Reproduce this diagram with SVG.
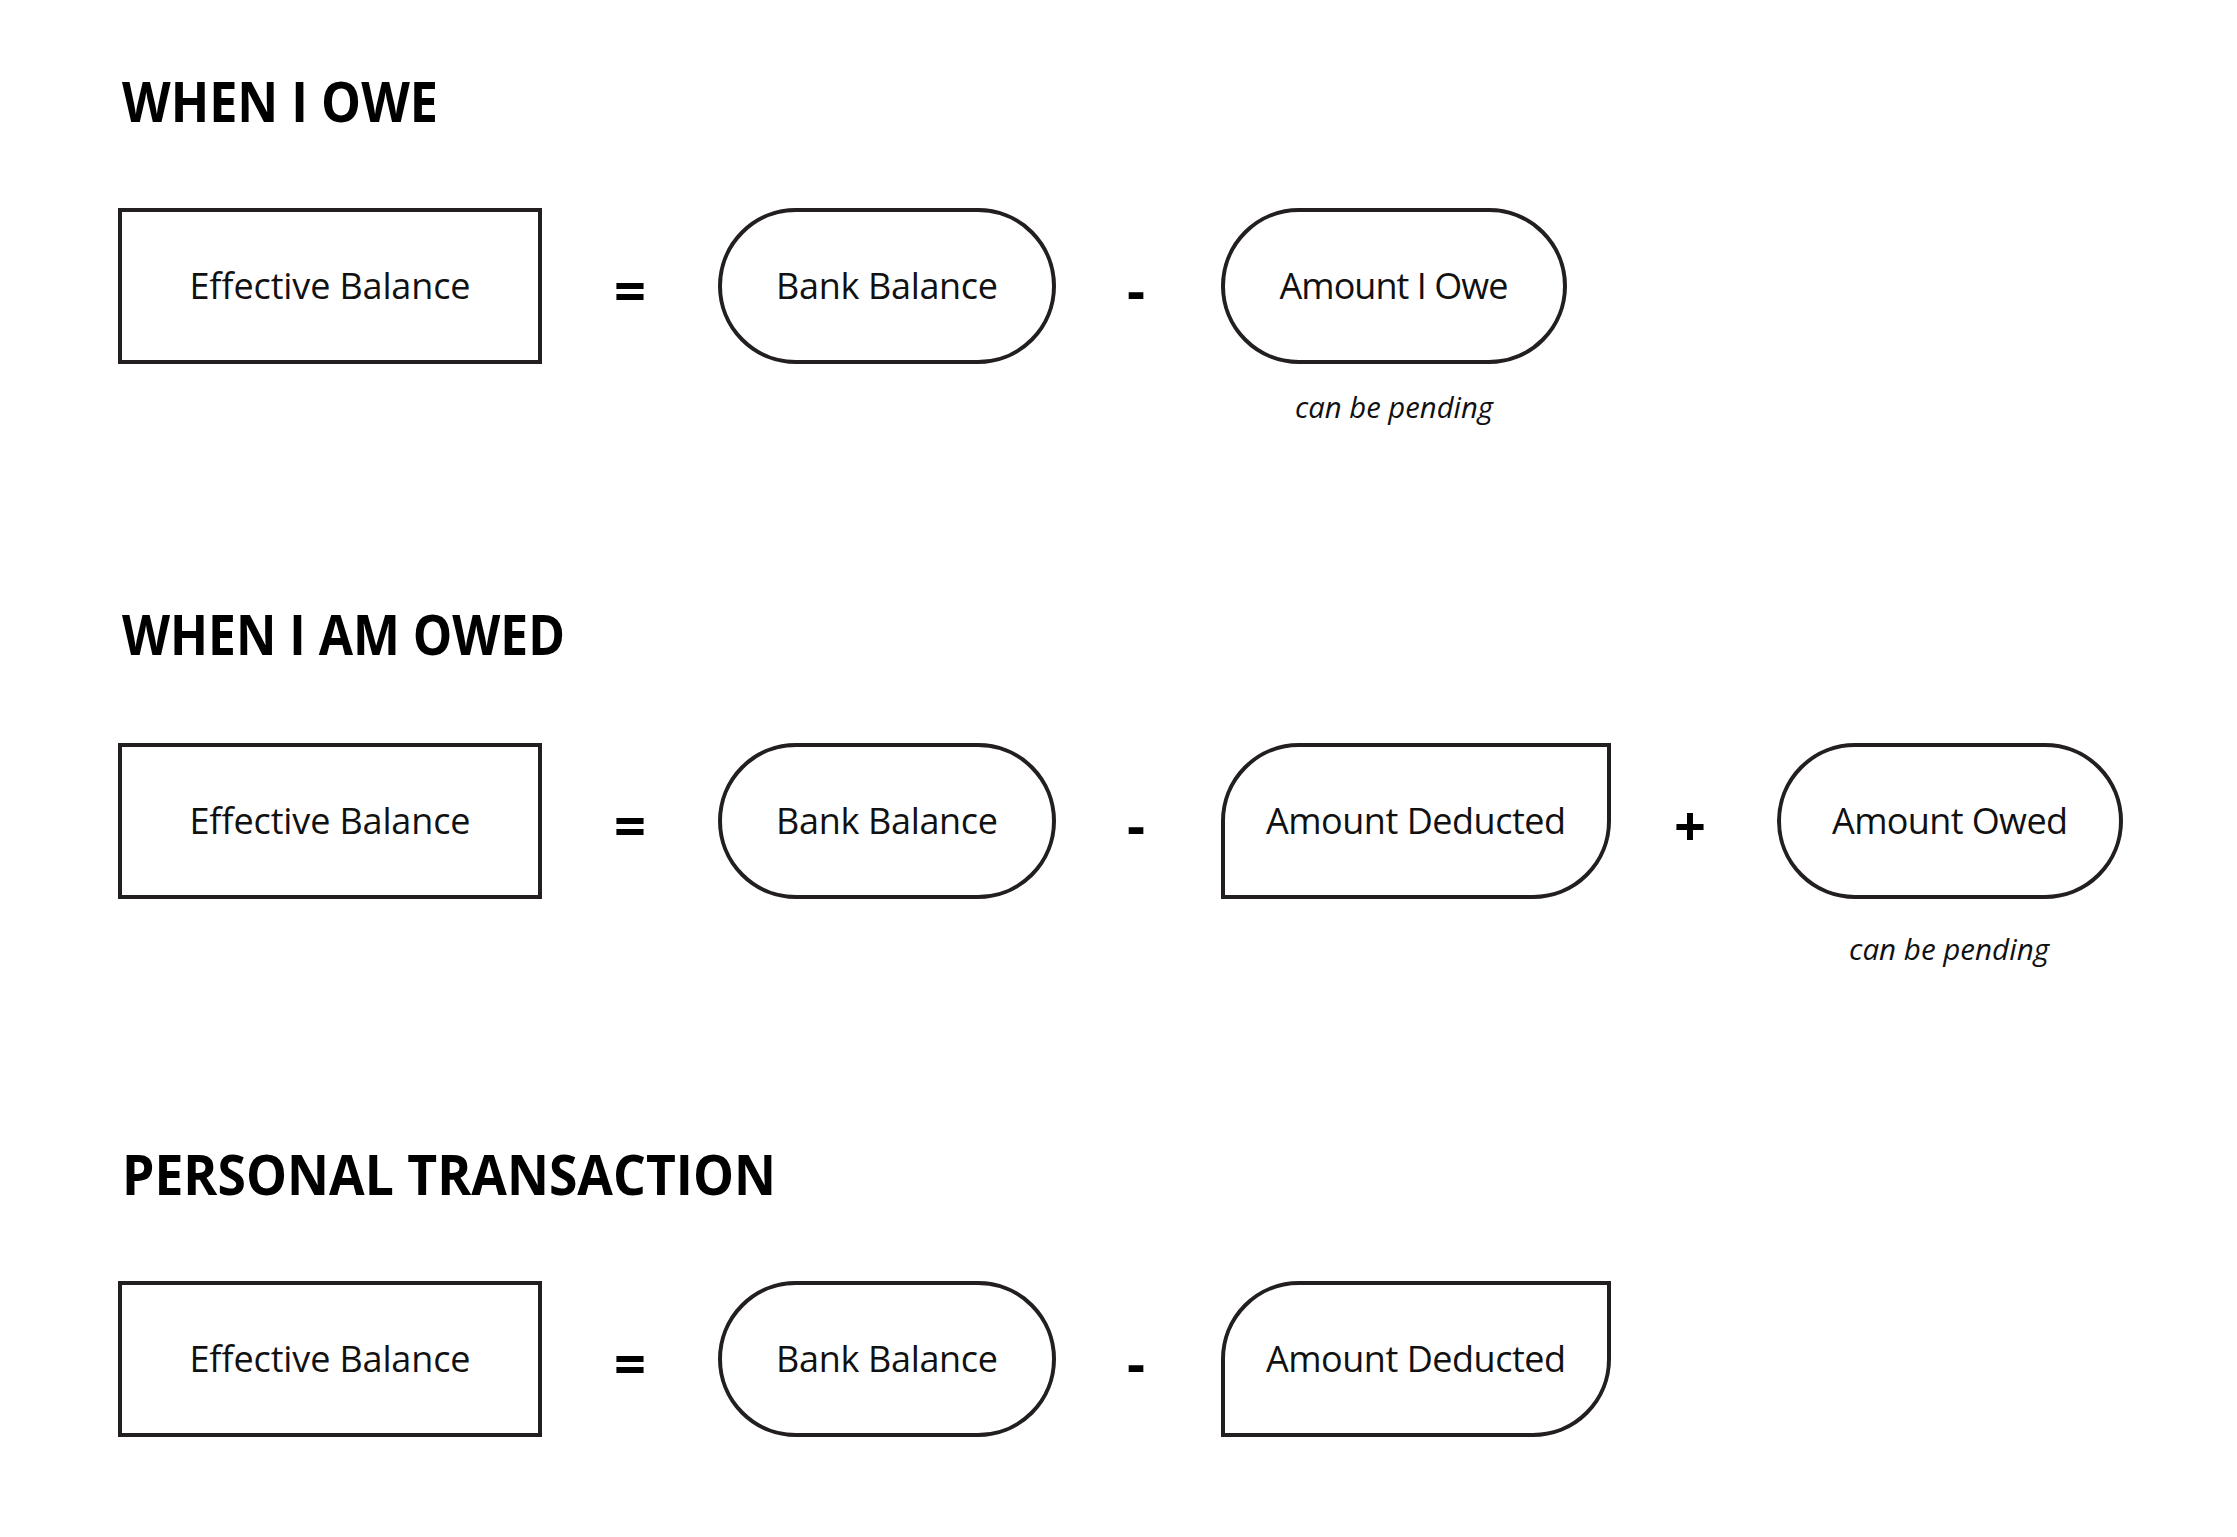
<svg xmlns="http://www.w3.org/2000/svg" width="2237" height="1537" viewBox="0 0 2237 1537">
  <style>
    .shape { fill: #ffffff; stroke: #231f20; stroke-width: 4; }
    .head { font-family: "Open Sans", "Noto Sans", sans-serif; font-weight: 700; font-size: 56px; fill: #000000; }
    .label { font-family: "Open Sans", "Noto Sans", sans-serif; font-weight: 400; font-size: 36px; fill: #111111; text-anchor: middle; }
    .note { font-family: "Open Sans", "Noto Sans", sans-serif; font-style: italic; font-size: 29px; fill: #111111; text-anchor: middle; }
    .op { font-family: "Open Sans", "Noto Sans", sans-serif; font-weight: 700; font-size: 56px; fill: #000000; text-anchor: middle; }
  </style>
  <rect width="2237" height="1537" fill="#ffffff"/>

  <!-- Headings -->
  <g id="headings">
    <text class="head" x="122" y="122" textLength="316" lengthAdjust="spacingAndGlyphs">WHEN I OWE</text>
    <text class="head" x="122" y="655" textLength="443" lengthAdjust="spacingAndGlyphs">WHEN I AM OWED</text>
    <text class="head" x="122" y="1195" textLength="654" lengthAdjust="spacingAndGlyphs">PERSONAL TRANSACTION</text>
  </g>

  <!-- Row 1: WHEN I OWE -->
  <g id="r1-effective-balance">
    <rect class="shape" x="120" y="210" width="420" height="152"/>
    <text class="label" x="330" y="299" textLength="281">Effective Balance</text>
  </g>
  <g id="r1-bank-balance">
    <rect class="shape" x="720" y="210" width="334" height="152" rx="76" ry="76"/>
    <text class="label" x="887" y="299" textLength="222">Bank Balance</text>
  </g>
  <g id="r1-amount-i-owe">
    <rect class="shape" x="1223" y="210" width="342" height="152" rx="76" ry="76"/>
    <text class="label" x="1394" y="299" textLength="229">Amount I Owe</text>
    <text class="note" x="1394" y="418" textLength="198" lengthAdjust="spacingAndGlyphs">can be pending</text>
  </g>

  <!-- Row 2: WHEN I AM OWED -->
  <g id="r2-effective-balance">
    <rect class="shape" x="120" y="745" width="420" height="152"/>
    <text class="label" x="330" y="834" textLength="281">Effective Balance</text>
  </g>
  <g id="r2-bank-balance">
    <rect class="shape" x="720" y="745" width="334" height="152" rx="76" ry="76"/>
    <text class="label" x="887" y="834" textLength="222">Bank Balance</text>
  </g>
  <g id="r2-amount-deducted">
    <path class="shape" d="M1299 745 H1609 V821 A76 76 0 0 1 1533 897 H1223 V821 A76 76 0 0 1 1299 745 Z"/>
    <text class="label" x="1416" y="834" textLength="300">Amount Deducted</text>
  </g>
  <g id="r2-amount-owed">
    <rect class="shape" x="1779" y="745" width="342" height="152" rx="76" ry="76"/>
    <text class="label" x="1950" y="834" textLength="236">Amount Owed</text>
    <text class="note" x="1949" y="960" textLength="200" lengthAdjust="spacingAndGlyphs">can be pending</text>
  </g>

  <!-- Row 3: PERSONAL TRANSACTION -->
  <g id="r3-effective-balance">
    <rect class="shape" x="120" y="1283" width="420" height="152"/>
    <text class="label" x="330" y="1372" textLength="281">Effective Balance</text>
  </g>
  <g id="r3-bank-balance">
    <rect class="shape" x="720" y="1283" width="334" height="152" rx="76" ry="76"/>
    <text class="label" x="887" y="1372" textLength="222">Bank Balance</text>
  </g>
  <g id="r3-amount-deducted">
    <path class="shape" d="M1299 1283 H1609 V1359 A76 76 0 0 1 1533 1435 H1223 V1359 A76 76 0 0 1 1299 1283 Z"/>
    <text class="label" x="1416" y="1372" textLength="300">Amount Deducted</text>
  </g>

  <!-- Operators -->
  <g id="connectors">
    <text class="op" x="630" y="311">=</text>
    <text class="op" x="1136" y="311">-</text>
    <text class="op" x="630" y="846">=</text>
    <text class="op" x="1136" y="846">-</text>
    <text class="op" x="1690" y="846">+</text>
    <text class="op" x="630" y="1384">=</text>
    <text class="op" x="1136" y="1384">-</text>
  </g>
</svg>
